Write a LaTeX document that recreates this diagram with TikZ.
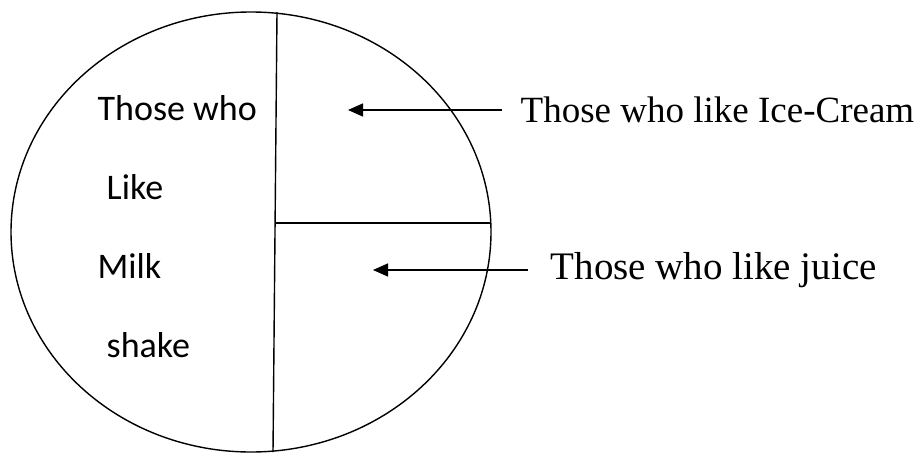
\documentclass[tikz,border=0pt]{standalone}
\usepackage{fontspec}
\setmainfont{Liberation Serif}
\newfontfamily\calibrifont{Carlito}
\usetikzlibrary{arrows.meta}

\begin{document}
\begin{tikzpicture}[x=1pt,y=-1pt,line width=1.4pt,
	lefttext/.style={anchor=base west,inner sep=0pt,font=\calibrifont\fontsize{36}{40}\selectfont},
	righttext/.style={anchor=west,inner ysep=0pt,font=\fontsize{37}{42}\selectfont},
	pointer/.style={-{Triangle[length=15pt,width=13pt]}}]
	\useasboundingbox (0,0) rectangle (917,452);
	\draw (251,232) ellipse [x radius=240pt, y radius=220pt];
	\draw (277,12) -- (273,452);
	\draw (275,223) -- (491,223);
	\node[lefttext] (those) at (97,120) {Those who};
	\node[lefttext] (like) at (106,199) {Like};
	\node[lefttext] (milk) at (97,278) {Milk};
	\node[lefttext] (shake) at (106,357) {shake};
	\coordinate (icetip) at (348,110);
	\coordinate (juicetip) at (373,270);
	\node[righttext,inner xsep=18pt] (ice) at (502,110) {Those who like Ice-Cream};
	\node[righttext,inner xsep=22pt,font=\fontsize{39}{44}\selectfont] (juice) at (528,270) {Those who like juice};
	\draw[pointer] (ice.west) -- (icetip);
	\draw[pointer] (juice.west) -- (juicetip);
\end{tikzpicture}
\end{document}
